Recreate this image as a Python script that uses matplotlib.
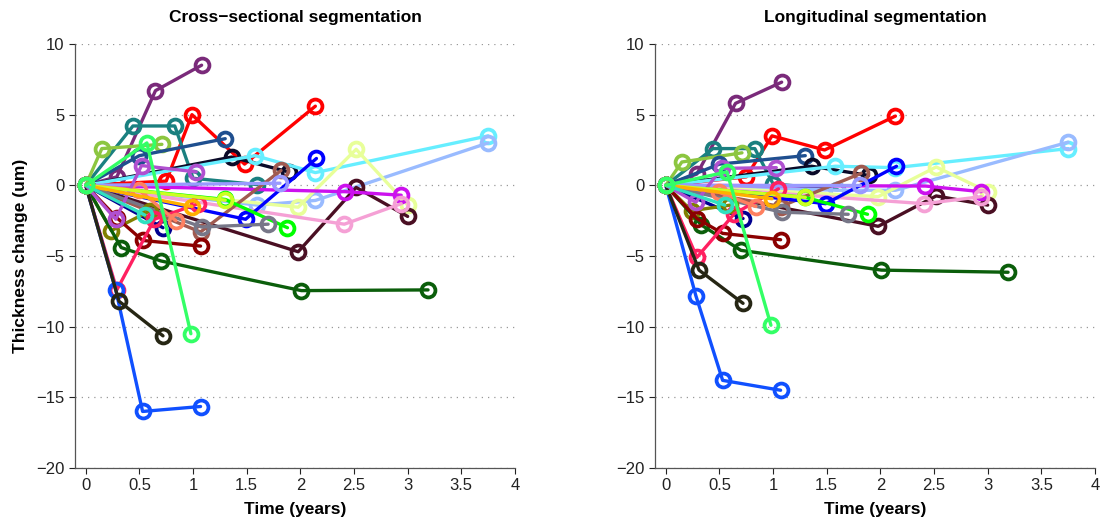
import matplotlib
matplotlib.use('Agg')
import matplotlib.pyplot as plt

# --- Data: one entry per subject (same visit times in both panels) ---
series_colors = [
    '#7A2A7A', '#FF0000', '#1A8080', '#8CC640', '#1F4F8F', '#0A0A28',
    '#66EEFF', '#99BBFF', '#E8FF99', '#4A0F23', '#CC11EE', '#F5A0D5',
    '#A05A50', '#0000FF', '#000090', '#00FF00', '#777788', '#9999FF',
    '#808000', '#0B5E0B', '#8B0000', '#FF2060', '#1050FF', '#262614',
    '#FF8060', '#B050D0', '#CCFF22', '#FFB000', '#30E0C0', '#33FF66',
]

visit_times = [
    [0, 0.29, 0.65, 1.08],
    [0, 0.75, 0.99, 1.48, 2.14],
    [0, 0.44, 0.83, 1.0, 1.6],
    [0, 0.15, 0.71],
    [0, 0.5, 1.3],
    [0, 1.36, 1.89],
    [0, 1.58, 2.14, 3.75],
    [0, 1.6, 2.14, 3.75],
    [0, 1.98, 2.52, 3.0],
    [0, 1.98, 2.52, 3.0],
    [0, 2.42, 2.94],
    [0, 2.41, 2.94],
    [0, 1.07, 1.82],
    [0, 1.49, 2.15],
    [0, 0.72],
    [0, 1.3, 1.88],
    [0, 1.08, 1.7],
    [0, 1.81],
    [0, 0.24, 0.6],
    [0, 0.33, 0.7, 2.01, 3.19],
    [0, 0.29, 0.53, 1.07],
    [0, 0.29, 0.64, 1.05],
    [0, 0.28, 0.53, 1.07],
    [0, 0.31, 0.72],
    [0, 0.5, 0.84],
    [0, 0.28, 0.52, 1.03],
    [0, 1.3],
    [0, 0.99],
    [0, 0.55],
    [0, 0.57, 0.98],
]

cross_change = [
    [0, 0.6, 6.7, 8.5],
    [0, 0.3, 5.0, 1.5, 5.6],
    [0, 4.2, 4.2, 0.5, 0.05],
    [0, 2.6, 2.9],
    [0, 2.1, 3.3],
    [0, 2.0, 0.95],
    [0, 2.1, 0.9, 3.5],
    [0, -1.4, -1.07, 3.0],
    [0, -1.55, 2.55, -1.4],
    [0, -4.7, -0.15, -2.2],
    [0, -0.45, -0.7],
    [0, -2.75, -1.3],
    [0, -3.3, 1.05],
    [0, -2.4, 1.9],
    [0, -3.0],
    [0, -1.0, -3.0],
    [0, -2.95, -2.75],
    [0, 0.15],
    [0, -3.2, -1.8],
    [0, -4.4, -5.35, -7.45, -7.4],
    [0, -2.3, -3.9, -4.3],
    [0, -7.4, -2.4, -1.3],
    [0, -7.4, -16.0, -15.65],
    [0, -8.2, -10.65],
    [0, -0.35, -2.5],
    [0, -2.4, 1.4, 0.95],
    [0, -1.05],
    [0, -1.5],
    [0, -2.1],
    [0, 3.0, -10.5],
]

long_change = [
    [0, 0.8, 5.8, 7.3],
    [0, 0.6, 3.5, 2.5, 4.9],
    [0, 2.6, 2.6, 0.1, -0.3],
    [0, 1.65, 2.3],
    [0, 1.5, 2.1],
    [0, 1.35, 0.7],
    [0, 1.35, 1.25, 2.6],
    [0, -0.35, -0.35, 3.05],
    [0, -0.8, 1.3, -0.45],
    [0, -2.9, -0.75, -1.4],
    [0, -0.05, -0.45],
    [0, -1.3, -0.8],
    [0, -1.5, 0.85],
    [0, -1.3, 1.35],
    [0, -2.35],
    [0, -0.85, -2.05],
    [0, -1.9, -2.05],
    [0, 0.0],
    [0, -1.8, -1.4],
    [0, -2.8, -4.6, -6.0, -6.15],
    [0, -2.35, -3.4, -3.85],
    [0, -5.1, -2.0, -0.25],
    [0, -7.8, -13.8, -14.5],
    [0, -6.0, -8.35],
    [0, -0.5, -1.5],
    [0, -1.2, 1.2, 1.25],
    [0, -0.85],
    [0, -0.95],
    [0, -1.4],
    [0, 0.95, -9.9],
]

panel_titles = ['Cross\u2212sectional segmentation', 'Longitudinal segmentation']
x_ticks = [0, 0.5, 1, 1.5, 2, 2.5, 3, 3.5, 4]
x_tick_labels = ['0', '0.5', '1', '1.5', '2', '2.5', '3', '3.5', '4']
y_ticks = [-20, -15, -10, -5, 0, 5, 10]
y_tick_labels = ['\u221220', '\u221215', '\u221210', '\u22125', '0', '5', '10']

plt.rcParams['font.family'] = ['Liberation Sans', 'DejaVu Sans']

fig = plt.figure(figsize=(11.11, 5.25), dpi=100)
ax_left = fig.add_axes([0.0675, 0.1086, 0.396, 0.8076])
ax_right = fig.add_axes([0.5896, 0.1086, 0.396, 0.8076])

for ax, values, title in [(ax_left, cross_change, panel_titles[0]),
                          (ax_right, long_change, panel_titles[1])]:
    for t, v, c in zip(visit_times, values, series_colors):
        ax.plot(t, v, '-o', color=c, lw=2.4, ms=10, mfc='none', mew=2.7,
                solid_capstyle='round', clip_on=False)

    ax.set_xlim(-0.1, 4)
    ax.set_ylim(-20, 10)
    ax.set_xticks(x_ticks)
    ax.set_xticklabels(x_tick_labels)
    ax.set_yticks(y_ticks)
    ax.set_yticklabels(y_tick_labels)
    ax.tick_params(direction='out', length=4, width=0.8, labelsize=12,
                   colors='#222222')
    for side in ['top', 'right']:
        ax.spines[side].set_visible(False)
    for side in ['left', 'bottom']:
        ax.spines[side].set_color('#555555')
        ax.spines[side].set_linewidth(0.9)
    ax.yaxis.grid(True, linestyle=(0, (1, 4)), color='#999999', lw=0.9)
    ax.set_axisbelow(True)
    ax.set_title(title, fontsize=12.5, fontweight='bold', pad=16)
    ax.set_xlabel('Time (years)', fontsize=12.5, fontweight='bold', labelpad=6)

ax_left.set_ylabel('Thickness change (um)', fontsize=12.5, fontweight='bold',
                   labelpad=6)

fig.savefig('out.png', dpi=100)
